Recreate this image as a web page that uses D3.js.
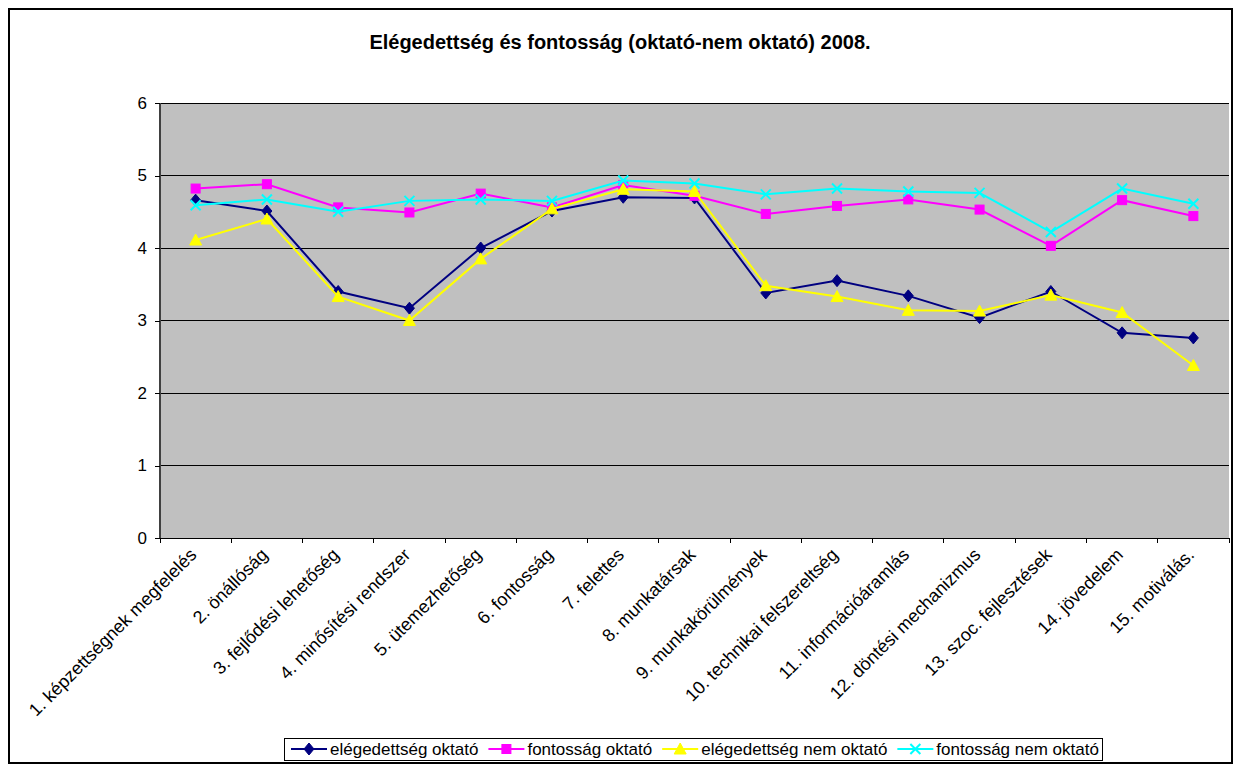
<!DOCTYPE html>
<html>
<head>
<meta charset="utf-8">
<script src="https://cdn.jsdelivr.net/npm/d3@7"></script>
<style>
  body { margin: 0; background: #fff; }
  svg { display: block; font-family: "Liberation Sans", Arial, sans-serif; }
</style>
</head>
<body>
<svg id="chart" width="1240" height="765"></svg>
<script>
(function() {
    "use strict";

    var categories = [
        "1. képzettségnek megfelelés", "2. önállóság", "3. fejlődési lehetőség",
        "4. minősítési rendszer", "5. ütemezhetőség", "6. fontosság", "7. felettes",
        "8. munkatársak", "9. munkakörülmények", "10. technikai felszereltség",
        "11. információáramlás", "12. döntési mechanizmus", "13. szoc. fejlesztések",
        "14. jövedelem", "15. motiválás."
    ];
    var seriesNames = ["elégedettség oktató", "fontosság oktató", "elégedettség nem oktató", "fontosság nem oktató"];
    var elegedettsegOktato    = [4.66, 4.51, 3.40, 3.17, 4.00, 4.51, 4.70, 4.69, 3.38, 3.55, 3.34, 3.04, 3.40, 2.83, 2.76];
    var fontossagOktato       = [4.82, 4.88, 4.56, 4.49, 4.75, 4.56, 4.87, 4.72, 4.47, 4.58, 4.67, 4.53, 4.03, 4.66, 4.44];
    var elegedettsegNemOktato = [4.11, 4.40, 3.33, 3.00, 3.85, 4.54, 4.81, 4.78, 3.48, 3.33, 3.14, 3.13, 3.35, 3.11, 2.38];
    var fontossagNemOktato    = [4.59, 4.67, 4.50, 4.65, 4.67, 4.65, 4.93, 4.89, 4.74, 4.82, 4.78, 4.76, 4.22, 4.82, 4.61];
    var yTicks = [0, 1, 2, 3, 4, 5, 6];

    var series = [
        {name: seriesNames[0], values: elegedettsegOktato, color: "#000080", marker: "diamond"},
        {name: seriesNames[1], values: fontossagOktato, color: "#FF00FF", marker: "square"},
        {name: seriesNames[2], values: elegedettsegNemOktato, color: "#FFFF00", marker: "triangle"},
        {name: seriesNames[3], values: fontossagNemOktato, color: "#00FFFF", marker: "cross"}
    ];

    var svg = d3.select("#chart");
    var plot = {left: 160, top: 103, right: 1229, bottom: 538};
    var fontSize = 17;

    // outer frame
    svg.append("rect")
        .attr("x", 9).attr("y", 9).attr("width", 1223).attr("height", 754)
        .attr("fill", "#fff").attr("stroke", "#000").attr("stroke-width", 2);

    // title
    svg.append("text")
        .attr("x", 620).attr("y", 49)
        .attr("text-anchor", "middle")
        .attr("font-size", 20).attr("font-weight", "bold")
        .text("Elégedettség és fontosság (oktató-nem oktató) 2008.");

    var x = d3.scaleBand().domain(categories).range([plot.left, plot.right]);
    var y = d3.scaleLinear().domain([0, 6]).range([plot.bottom, plot.top]);
    var cx = function(i) { return x(categories[i]) + x.bandwidth() / 2; };

    // plot area
    svg.append("rect")
        .attr("x", plot.left).attr("y", plot.top)
        .attr("width", plot.right - plot.left).attr("height", plot.bottom - plot.top)
        .attr("fill", "#C0C0C0");

    // gridlines
    svg.append("g").selectAll("line").data(yTicks.slice(1)).enter().append("line")
        .attr("x1", plot.left).attr("x2", plot.right)
        .attr("y1", function(d) { return y(d); }).attr("y2", function(d) { return y(d); })
        .attr("stroke", "#000").attr("stroke-width", 1)
        .attr("shape-rendering", "crispEdges");

    // y axis
    var yAxis = svg.append("g")
        .attr("transform", "translate(" + plot.left + ",0)")
        .call(d3.axisLeft(y).tickValues(yTicks).tickSize(5).tickPadding(8).tickFormat(d3.format("d")));
    yAxis.selectAll("text").attr("font-size", fontSize).attr("font-family", null).attr("fill", "#000");
    yAxis.selectAll("line").attr("stroke", "#000").attr("shape-rendering", "crispEdges");
    yAxis.select(".domain").attr("stroke", "#404040").attr("stroke-width", 2).attr("d", "M0," + plot.top + "V" + plot.bottom);

    // x axis
    var bounds = d3.range(categories.length + 1).map(function(i) { return plot.left + i * x.step(); });
    var xg = svg.append("g");
    xg.append("line")
        .attr("x1", plot.left).attr("x2", plot.right)
        .attr("y1", plot.bottom).attr("y2", plot.bottom)
        .attr("stroke", "#000").attr("stroke-width", 1).attr("shape-rendering", "crispEdges");
    xg.selectAll(".tick").data(bounds).enter().append("line")
        .attr("x1", function(d) { return d; }).attr("x2", function(d) { return d; })
        .attr("y1", plot.bottom).attr("y2", plot.bottom + 5)
        .attr("stroke", "#000").attr("shape-rendering", "crispEdges");
    xg.selectAll("text").data(categories).enter().append("text")
        .attr("text-anchor", "end")
        .attr("font-size", 18)
        .attr("transform", function(d, i) {
            return "translate(" + (cx(i) + 2) + "," + (plot.bottom + 18) + ") rotate(-45)";
        })
        .text(function(d) { return d; });

    // markers
    function drawMarker(g, type, color, px, py) {
        if (type === "diamond") {
            g.append("path").attr("d", "M" + px + "," + (py - 6) + "L" + (px + 5) + "," + py + "L" + px + "," + (py + 6) + "L" + (px - 5) + "," + py + "Z")
                .attr("fill", color).attr("stroke", color);
        } else if (type === "square") {
            g.append("rect").attr("x", px - 4.5).attr("y", py - 4.5).attr("width", 9).attr("height", 9)
                .attr("fill", color).attr("stroke", color);
        } else if (type === "triangle") {
            g.append("path").attr("d", "M" + px + "," + (py - 6) + "L" + (px + 6) + "," + (py + 5) + "L" + (px - 6) + "," + (py + 5) + "Z")
                .attr("fill", color).attr("stroke", color);
        } else {
            g.append("path").attr("d", "M" + (px - 5) + "," + (py - 5) + "L" + (px + 5) + "," + (py + 5) + "M" + (px + 5) + "," + (py - 5) + "L" + (px - 5) + "," + (py + 5))
                .attr("fill", "none").attr("stroke", color).attr("stroke-width", 2);
        }
    }

    var line = d3.line()
        .x(function(d, i) { return cx(i); })
        .y(function(d) { return y(d); });

    series.forEach(function(s) {
        var g = svg.append("g");
        g.append("path").datum(s.values)
            .attr("d", line)
            .attr("fill", "none").attr("stroke", s.color).attr("stroke-width", 2);
        s.values.forEach(function(v, i) { drawMarker(g, s.marker, s.color, cx(i), y(v)); });
    });

    // legend
    var lg = svg.append("g");
    var box = lg.append("rect")
        .attr("y", 738).attr("height", 22)
        .attr("fill", "#fff").attr("stroke", "#000").attr("stroke-width", 1)
        .attr("shape-rendering", "crispEdges");
    var lx = 291;
    series.forEach(function(s) {
        lg.append("line").attr("x1", lx).attr("x2", lx + 36).attr("y1", 749).attr("y2", 749)
            .attr("stroke", s.color).attr("stroke-width", 2);
        drawMarker(lg, s.marker, s.color, lx + 18, 749);
        var t = lg.append("text").attr("x", lx + 39).attr("y", 755)
            .attr("font-size", fontSize).text(s.name);
        lx = lx + 39 + t.node().getComputedTextLength() + 10;
    });
    box.attr("x", 284).attr("width", lx - 284 - 6);
})();
</script>
</body>
</html>
